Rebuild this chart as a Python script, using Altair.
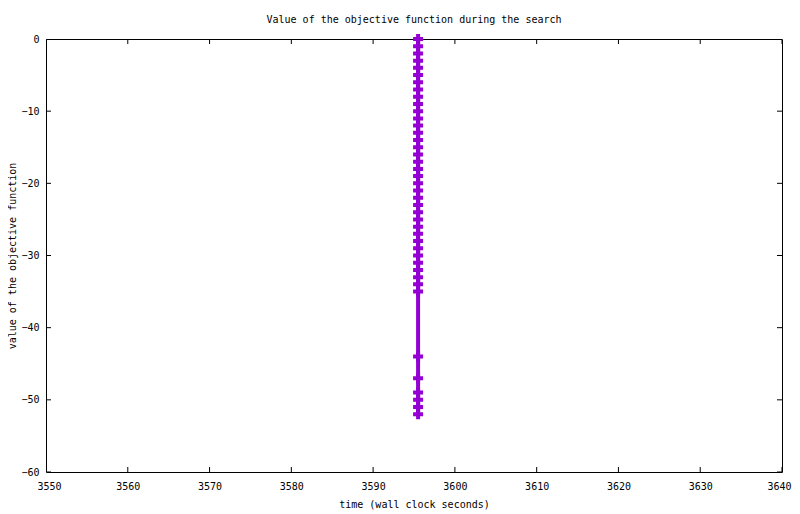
import altair as alt
import pandas as pd

# --- data ---
times = [3595.5, 3595.5, 3595.5, 3595.5, 3595.5, 3595.5, 3595.5, 3595.5,
         3595.5, 3595.5, 3595.5, 3595.5, 3595.5, 3595.5, 3595.5, 3595.5,
         3595.5, 3595.5, 3595.5, 3595.5, 3595.5, 3595.5, 3595.5, 3595.5,
         3595.5, 3595.5, 3595.5, 3595.5, 3595.5, 3595.5, 3595.5, 3595.5,
         3595.5, 3595.5, 3595.5, 3595.5, 3595.5, 3595.5, 3595.5, 3595.5,
         3595.5, 3595.5]
values = [0, -1, -2, -3, -4, -5, -6, -7, -8, -9, -10, -11, -12, -13, -14,
          -15, -16, -17, -18, -19, -20, -21, -22, -23, -24, -25, -26, -27,
          -28, -29, -30, -31, -32, -33, -34, -35, -44, -47, -49, -50, -51, -52]
x_ticks = [3550, 3560, 3570, 3580, 3590, 3600, 3610, 3620, 3630, 3640]
y_ticks = [-60, -50, -40, -30, -20, -10, 0]

df = pd.DataFrame({"time": times, "value": values, "step": list(range(len(values)))})
xt = pd.DataFrame({"time": x_ticks})
yt = pd.DataFrame({"value": y_ticks})

COLOR = "#9400D3"
FONT = "DejaVu Sans Mono"

xscale = alt.Scale(domain=[3550, 3640], nice=False, zero=False)
yscale = alt.Scale(domain=[-60, 0], nice=False, zero=False)

X = alt.X("time:Q", scale=xscale,
          axis=alt.Axis(values=x_ticks, title="time (wall clock seconds)",
                        format="d", labelPadding=9, titlePadding=8,
                        labelFlush=True, labelFlushOffset=9, labelOverlap=False))
Y = alt.Y("value:Q", scale=yscale,
          axis=alt.Axis(values=y_ticks, title="value of the objective function",
                        format="d", labelPadding=7, titlePadding=3,
                        labelFlush=False, labelOverlap=False))

line = alt.Chart(df).mark_line(color=COLOR, strokeWidth=4).encode(
    x=X, y=Y, order="step:Q")
pts = alt.Chart(df).mark_point(shape="cross", filled=True, size=100,
                                color=COLOR, opacity=1).encode(x=X, y=Y)

xs = alt.X("time:Q", scale=xscale)
ys = alt.Y("value:Q", scale=yscale)
tick_b = alt.Chart(xt).mark_tick(orient="vertical", size=10, thickness=1,
                                 color="black", opacity=1, clip=True).encode(x=xs, y=alt.value(433))
tick_t = alt.Chart(xt).mark_tick(orient="vertical", size=10, thickness=1,
                                 color="black", opacity=1, clip=True).encode(x=xs, y=alt.value(0))
tick_l = alt.Chart(yt).mark_tick(orient="horizontal", size=10, thickness=1,
                                 color="black", opacity=1, clip=True).encode(y=ys, x=alt.value(0))
tick_r = alt.Chart(yt).mark_tick(orient="horizontal", size=10, thickness=1,
                                 color="black", opacity=1, clip=True).encode(y=ys, x=alt.value(736))

chart = alt.layer(line, pts, tick_b, tick_t, tick_l, tick_r).properties(
    width=736, height=433,
    title=alt.TitleParams("Value of the objective function during the search",
                          font=FONT, fontSize=10, fontWeight="normal",
                          color="black", offset=6, anchor="middle"),
    autosize=alt.AutoSizeParams(type="none"),
    padding={"left": 38, "top": 31, "right": 10, "bottom": 42},
    background="white",
).configure_view(stroke="black", strokeWidth=1).configure_axis(
    ticks=False, domain=False, grid=False,
    labelFont=FONT, labelFontSize=10, labelColor="black",
    titleFont=FONT, titleFontSize=10, titleFontWeight="normal", titleColor="black",
)

chart.save("out.html", embed_options={"renderer": "svg", "actions": False})
